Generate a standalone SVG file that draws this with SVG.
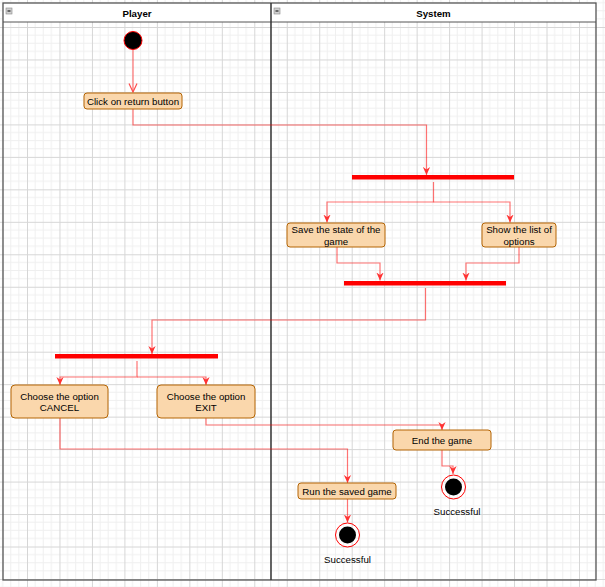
<svg xmlns="http://www.w3.org/2000/svg" width="605" height="587" viewBox="0 0 605 587">
<style>
  text { font-family: "Liberation Sans", Arial, sans-serif; font-size: 9.7px; fill: #000; }
  .hdr { font-weight: bold; }
  .box { fill: #fad7ac; stroke: #b46504; stroke-width: 1; }
  .bar { fill: #ff0000; }
  .conn { fill: none; stroke: #ff0000; stroke-opacity: 0.55; stroke-width: 1.2; }
  .ring { fill: none; stroke: #ff0000; stroke-width: 1; }
</style>
<defs>
  <pattern id="grid" patternUnits="userSpaceOnUse" x="-5.47" y="-5.47" width="32.47" height="32.47">
    <path d="M8.12,0 V32.47 M16.24,0 V32.47 M24.35,0 V32.47 M0,8.12 H32.47 M0,16.24 H32.47 M0,24.35 H32.47" stroke="#efefef" stroke-width="1" fill="none"/>
    <path d="M0.5,0 V32.47 M0,0.5 H32.47" stroke="#d6d6d6" stroke-width="1" fill="none"/>
  </pattern>
  <marker id="open" markerUnits="userSpaceOnUse" markerWidth="10" markerHeight="10" viewBox="0 0 10 10" refX="9.5" refY="5" orient="auto">
    <path d="M1,1 L9.5,5 L1,9" fill="none" stroke="#ff4d4d" stroke-width="1.2"/>
  </marker>
  <marker id="arr" markerUnits="userSpaceOnUse" markerWidth="8" markerHeight="8" viewBox="0 0 10 10" refX="10" refY="5" orient="auto">
    <path d="M0,0.5 L10,5 L0,9.5 L3,5 z" fill="#ff3333"/>
  </marker>
</defs>
<rect x="0" y="0" width="605" height="587" fill="#ffffff"/>
<rect x="0" y="0" width="605" height="587" fill="url(#grid)"/>

<g id="pool">
  <rect x="3" y="3" width="593" height="19" fill="#ffffff"/>
  <rect x="3" y="3" width="593" height="577" fill="none" stroke="#555555" stroke-width="1.3"/>
  <line x1="3" y1="22" x2="596" y2="22" stroke="#555555" stroke-width="1"/>
  <line x1="271" y1="3" x2="271" y2="580" stroke="#333333" stroke-width="1.5"/>
</g>
<g id="lane-player">
  <rect x="6" y="8" width="6" height="6" fill="#d0d0d0" stroke="#888888" stroke-width="0.6"/>
  <line x1="7.5" y1="11" x2="10.5" y2="11" stroke="#000" stroke-width="1"/>
  <text class="hdr" x="137" y="16.5" text-anchor="middle">Player</text>
</g>
<g id="lane-system">
  <rect x="274" y="8" width="6" height="6" fill="#d0d0d0" stroke="#888888" stroke-width="0.6"/>
  <line x1="275.5" y1="11" x2="278.5" y2="11" stroke="#000" stroke-width="1"/>
  <text class="hdr" x="433.5" y="16.5" text-anchor="middle">System</text>
</g>

<g id="connectors">
  <path class="conn" d="M133,50 V92" marker-end="url(#open)"/>
  <path class="conn" d="M133,109 V125 H426.5 V175" marker-end="url(#arr)"/>
  <path class="conn" d="M433.5,182 V202 H327 V222.5" marker-end="url(#arr)"/>
  <path class="conn" d="M433.5,202 H510 V222.5" marker-end="url(#arr)"/>
  <path class="conn" d="M337,247 V263 H380 V280.5" marker-end="url(#arr)"/>
  <path class="conn" d="M519,247 V263 H466 V280.5" marker-end="url(#arr)"/>
  <path class="conn" d="M425.5,288 V320 H152 V354" marker-end="url(#arr)"/>
  <path class="conn" d="M137,361 V377 H60 V385" marker-end="url(#arr)"/>
  <path class="conn" d="M137,377 H206 V385" marker-end="url(#arr)"/>
  <path class="conn" d="M60,418 V449 H347.5 V483" marker-end="url(#arr)"/>
  <path class="conn" d="M206,418 V425 H442 V430" marker-end="url(#arr)"/>
  <path class="conn" d="M442,450 V466 H453 V474" marker-end="url(#arr)"/>
  <path class="conn" d="M347.5,499 V522.5" marker-end="url(#arr)"/>
</g>

<g id="start">
  <circle cx="133" cy="40.5" r="9" fill="#000" stroke="#ff0000" stroke-width="1"/>
</g>
<g id="click">
  <rect class="box" x="84" y="93" width="98" height="16" rx="3"/>
  <text x="133" y="104.5" text-anchor="middle">Click on return button</text>
</g>
<g id="fork1"><rect class="bar" x="352" y="175" width="162" height="4.5"/></g>
<g id="save">
  <rect class="box" x="287" y="223" width="98" height="24" rx="3"/>
  <text x="336" y="232.5" text-anchor="middle">Save the state of the</text>
  <text x="336" y="244.5" text-anchor="middle">game</text>
</g>
<g id="show">
  <rect class="box" x="482" y="223" width="74" height="24" rx="3"/>
  <text x="519" y="232.5" text-anchor="middle">Show the list of</text>
  <text x="519" y="244.5" text-anchor="middle">options</text>
</g>
<g id="join1"><rect class="bar" x="344" y="281" width="162" height="4.5"/></g>
<g id="fork2"><rect class="bar" x="55" y="354" width="163" height="4.5"/></g>
<g id="cancel">
  <rect class="box" x="11" y="385" width="97" height="33" rx="4"/>
  <text x="59.5" y="399.5" text-anchor="middle">Choose the option</text>
  <text x="59.5" y="410.5" text-anchor="middle">CANCEL</text>
</g>
<g id="exit">
  <rect class="box" x="157" y="385" width="98" height="33" rx="4"/>
  <text x="206" y="399.5" text-anchor="middle">Choose the option</text>
  <text x="206" y="410.5" text-anchor="middle">EXIT</text>
</g>
<g id="endgame">
  <rect class="box" x="393" y="430" width="98" height="20" rx="3"/>
  <text x="442" y="443.5" text-anchor="middle">End the game</text>
</g>
<g id="run">
  <rect class="box" x="298" y="483" width="98" height="16" rx="3"/>
  <text x="347" y="494.5" text-anchor="middle">Run the saved game</text>
</g>
<g id="final1">
  <circle class="ring" cx="453.5" cy="487" r="12"/>
  <circle cx="453.5" cy="487" r="8.5" fill="#000"/>
  <text x="457" y="514.5" text-anchor="middle">Successful</text>
</g>
<g id="final2">
  <circle class="ring" cx="347.5" cy="535" r="12"/>
  <circle cx="347.5" cy="535" r="8.5" fill="#000"/>
  <text x="347.5" y="562.5" text-anchor="middle">Successful</text>
</g>
</svg>
